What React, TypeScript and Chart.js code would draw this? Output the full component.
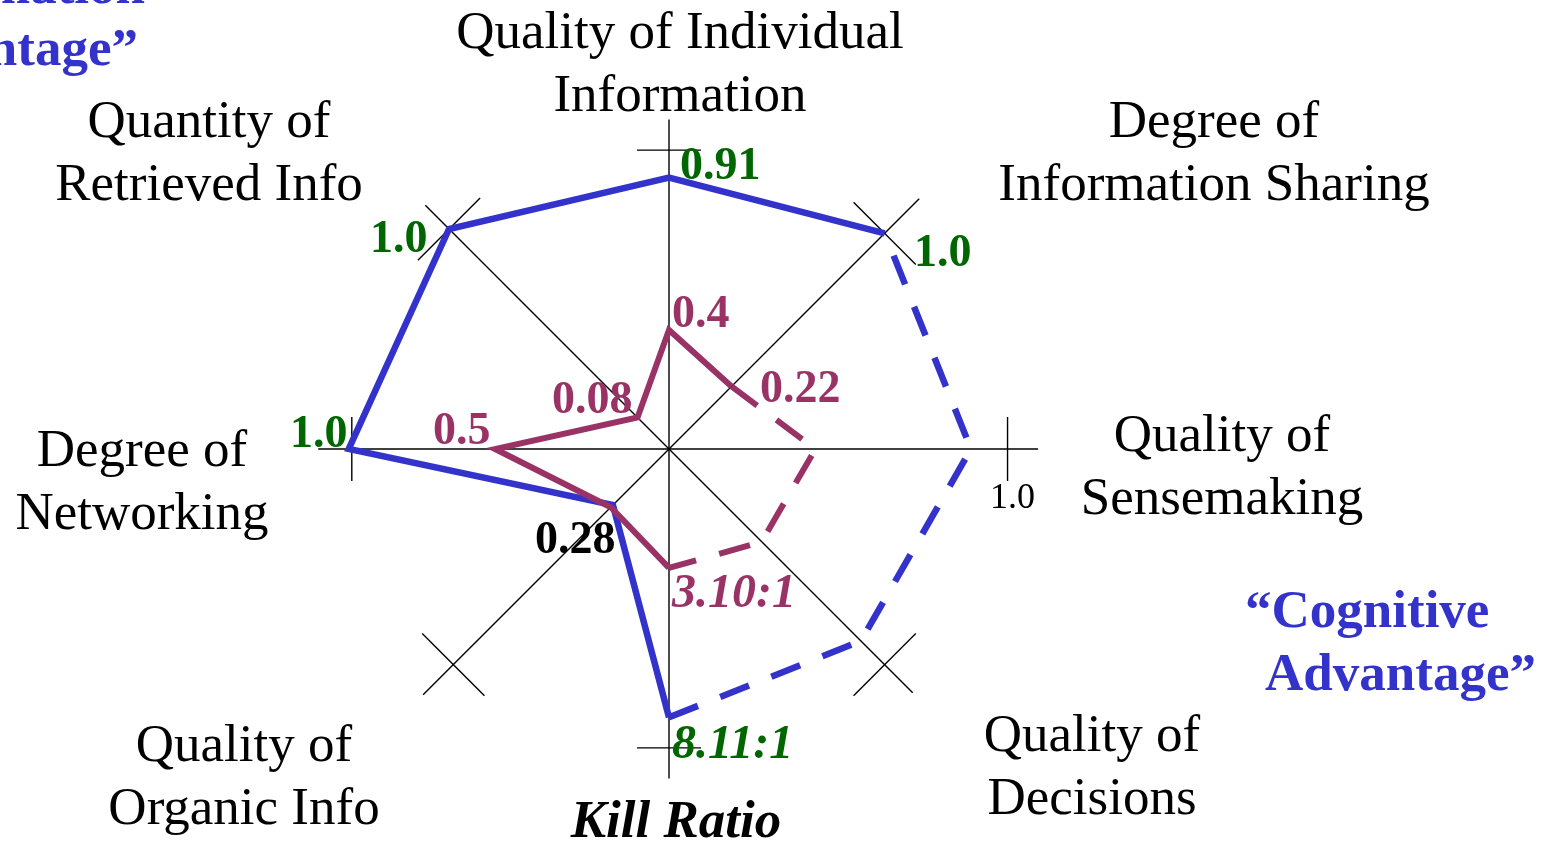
import { useEffect, useRef } from "react";
import { Chart, registerables } from "chart.js";

Chart.register(...registerables);

// ---- data ----
const axisNames: string[][] = [
  ["Quality of Individual", "Information"],
  ["Degree of", "Information Sharing"],
  ["Quality of", "Sensemaking"],
  ["Quality of", "Decisions"],
  ["Kill Ratio"],
  ["Quality of", "Organic Info"],
  ["Degree of", "Networking"],
  ["Quantity of", "Retrieved Info"],
];
const cognitiveValues = [0.89, 1.0, 0.99, 0.89, 0.88, 0.26, 1.05, 1.02];
const baselineValues = [0.39, 0.29, 0.48, 0.43, 0.39, 0.27, 0.57, 0.146];
const cognitiveLabels = ["0.91", "1.0", "", "", "8.11:1", "0.28", "1.0", "1.0"];
const baselineLabels = ["0.4", "0.22", "", "", "3.10:1", "", "0.5", "0.08"];
const dashedSegmentsFrom = [1, 2, 3];
const axisEnds = [1.08, 1.16, 1.21, 1.13, 1.08, 1.14, 1.15, 1.13];
const axisTicks = [0.98, 1.0, 1.11, 1.0, 0.98, 1.0, 1.04, 1.02];
const tickLabelText = "1.0";
const cognitiveTitle = ["\u201CCognitive", "Advantage\u201D"];
const informationTitle = ["\u201CInformation", "Advantage\u201D"];

// ---- styles / layout ----
const BLUE = "#3333CC";
const PURPLE = "#993366";
const GREEN = "#006600";
const FONT = '"Liberation Serif", "Times New Roman", serif';

const titlePos = [
  { x: 680, y: 48 },
  { x: 1214, y: 137 },
  { x: 1222, y: 451 },
  { x: 1092, y: 751 },
  { x: 676, y: 837 },
  { x: 244, y: 761 },
  { x: 142, y: 466 },
  { x: 209, y: 137 },
];
const cognitiveLabelPos: (null | { x: number; y: number; color: string; italic?: boolean })[] = [
  { x: 680, y: 179, color: GREEN },
  { x: 914, y: 266, color: GREEN },
  null,
  null,
  { x: 672, y: 758, color: GREEN, italic: true },
  { x: 535, y: 553, color: "#000" },
  { x: 290, y: 447, color: GREEN },
  { x: 370, y: 252, color: GREEN },
];
const baselineLabelPos: (null | { x: number; y: number; italic?: boolean })[] = [
  { x: 672, y: 327 },
  { x: 760, y: 402 },
  null,
  null,
  { x: 672, y: 607, italic: true },
  null,
  { x: 433, y: 444 },
  { x: 552, y: 413 },
];

const N = axisNames.length;
function solidPart(values: number[]) {
  const keep = new Set<number>();
  for (let i = 0; i < N; i++) {
    if (!dashedSegmentsFrom.includes(i)) {
      keep.add(i);
      keep.add((i + 1) % N);
    }
  }
  return values.map((v, i) => (keep.has(i) ? v : null));
}
function dashedPart(values: number[]) {
  const keep = new Set<number>();
  dashedSegmentsFrom.forEach((i) => {
    keep.add(i);
    keep.add((i + 1) % N);
  });
  return values.map((v, i) => (keep.has(i) ? v : null));
}

const overlayPlugin = {
  id: "overlay",
  beforeDatasetsDraw(chart: any) {
    const s = chart.scales.r;
    const ctx: CanvasRenderingContext2D = chart.ctx;
    ctx.save();
    ctx.strokeStyle = "#000";
    ctx.lineWidth = 1.4;
    ctx.lineCap = "butt";
    for (let i = 0; i < N; i++) {
      const c = s.getPointPositionForValue(i, 0);
      const e = s.getPointPositionForValue(i, axisEnds[i]);
      ctx.beginPath();
      ctx.moveTo(c.x, c.y);
      ctx.lineTo(e.x, e.y);
      ctx.stroke();
      const t = s.getPointPositionForValue(i, axisTicks[i]);
      const h = i % 2 === 0 ? 32 : 44;
      const px = -Math.sin(t.angle) * h;
      const py = Math.cos(t.angle) * h;
      ctx.beginPath();
      ctx.moveTo(t.x - px, t.y - py);
      ctx.lineTo(t.x + px, t.y + py);
      ctx.stroke();
    }
    ctx.restore();
  },
  afterDatasetsDraw(chart: any) {
    const ctx: CanvasRenderingContext2D = chart.ctx;
    ctx.save();
    ctx.textBaseline = "alphabetic";
    ctx.fillStyle = "#000";
    ctx.textAlign = "center";
    axisNames.forEach((lines, i) => {
      const p = titlePos[i];
      ctx.font = i === 4 ? `italic bold 53px ${FONT}` : `53px ${FONT}`;
      lines.forEach((ln, k) => ctx.fillText(ln, p.x, p.y + k * 63));
    });
    ctx.font = `36px ${FONT}`;
    ctx.textAlign = "left";
    ctx.fillText(tickLabelText, 990, 508);
    cognitiveLabels.forEach((txt, i) => {
      const p = cognitiveLabelPos[i];
      if (!txt || !p) return;
      ctx.fillStyle = p.color;
      ctx.font = p.italic ? `italic bold 48px ${FONT}` : `bold 46px ${FONT}`;
      ctx.fillText(txt, p.x, p.y);
    });
    baselineLabels.forEach((txt, i) => {
      const p = baselineLabelPos[i];
      if (!txt || !p) return;
      ctx.fillStyle = PURPLE;
      ctx.font = p.italic ? `italic bold 48px ${FONT}` : `bold 46px ${FONT}`;
      ctx.fillText(txt, p.x, p.y);
    });
    ctx.fillStyle = BLUE;
    ctx.font = `bold 53px ${FONT}`;
    ctx.textAlign = "left";
    ctx.fillText(cognitiveTitle[0], 1245, 627);
    ctx.fillText(cognitiveTitle[1], 1265, 690);
    ctx.textAlign = "right";
    ctx.fillText(informationTitle[0], 145, 3);
    ctx.fillText(informationTitle[1], 138, 65);
    ctx.restore();
  },
};

function lineDs(label: string, data: (number | null)[], color: string, width: number, dash: number[], offset: number) {
  return {
    label,
    data,
    borderColor: color,
    backgroundColor: "transparent",
    borderWidth: width,
    borderDash: dash,
    borderDashOffset: offset,
    fill: false,
    spanGaps: false,
    pointRadius: 0,
    pointHoverRadius: 0,
    pointHitRadius: 0,
    tension: 0,
    borderJoinStyle: "miter",
    borderCapStyle: "butt",
    clip: false,
  } as any;
}

export default function App() {
  const ref = useRef<HTMLCanvasElement>(null);
  useEffect(() => {
    document.body.style.margin = "0";
    document.body.style.background = "#fff";
    const chart = new Chart(ref.current as HTMLCanvasElement, {
      type: "radar",
      data: {
        labels: axisNames.map((l) => l.join(" ")),
        datasets: [
          lineDs("Baseline", solidPart(baselineValues), PURPLE, 6, [], 0),
          lineDs("Baseline (projected)", dashedPart(baselineValues), PURPLE, 6, [32, 24], 0),
          lineDs("Cognitive Advantage", solidPart(cognitiveValues), BLUE, 6.5, [], 0),
          lineDs("Cognitive Advantage (projected)", dashedPart(cognitiveValues), BLUE, 6.5, [31, 24], 31),
        ],
      },
      options: {
        animation: false,
        responsive: false,
        devicePixelRatio: 1,
        layout: { padding: { left: 364, right: 570, top: 144, bottom: 87 } },
        plugins: { legend: { display: false }, tooltip: { enabled: false }, title: { display: false } },
        events: [],
        scales: {
          r: {
            min: 0,
            max: 1,
            ticks: { display: false },
            pointLabels: { display: false },
            grid: { display: false },
            angleLines: { display: false },
          },
        },
      },
      plugins: [overlayPlugin],
    });
    return () => chart.destroy();
  }, []);
  return (
    <div style={{ position: "relative", width: 1544, height: 841, background: "#fff" }}>
      <canvas ref={ref} width={1544} height={841} style={{ width: 1544, height: 841, display: "block" }} />
    </div>
  );
}
